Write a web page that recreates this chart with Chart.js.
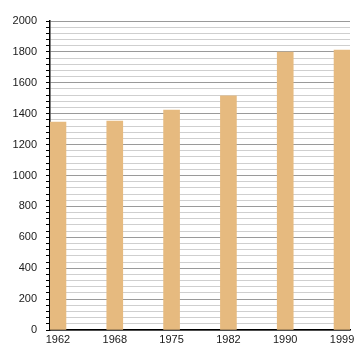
<!DOCTYPE html>
<html>
<head>
<meta charset="utf-8">
<script src="https://cdn.jsdelivr.net/npm/chart.js@4"></script>
<style>
  html, body { margin: 0; padding: 0; background: #fff; }
  #wrap { width: 360px; height: 360px; }
</style>
</head>
<body>
<div id="wrap"><canvas id="chart" width="360" height="360"></canvas></div>
<script>
const years = ['1962', '1968', '1975', '1982', '1990', '1999'];
const population = [1346, 1353, 1424, 1515, 1799, 1812];

const points = population.map((v, i) => ({ x: i, y: v }));

new Chart(document.getElementById('chart'), {
    type: 'bar',
    data: {
        datasets: [{
            data: points,
            backgroundColor: '#e6ba7f',
            borderWidth: 0,
            barThickness: 16
        }]
    },
    options: {
        responsive: false,
        animation: false,
        layout: { padding: { top: 21, right: 10, left: 0, bottom: 0 } },
        plugins: {
            legend: { display: false },
            tooltip: { enabled: false }
        },
        scales: {
            x: {
                type: 'linear',
                offset: false,
                min: -0.14,
                max: 5.14,
                grid: { display: false, drawTicks: false },
                border: { color: '#000', width: 1.5 },
                ticks: {
                    stepSize: 1,
                    includeBounds: false,
                    padding: 3,
                    color: '#1a1a1a',
                    font: { family: 'Liberation Sans', size: 11 },
                    callback: v => Number.isInteger(v) ? years[v] : ''
                },
                afterFit: scale => { scale.height = 30; }
            },
            y: {
                min: 0,
                max: 2000,
                grid: {
                    color: ctx => ctx.tick && ctx.tick.value % 200 === 0 ? '#9a9a9a' : '#cfcfcf',
                    tickColor: '#000',
                    tickLength: 4
                },
                border: { color: '#000', width: 1.5 },
                ticks: {
                    stepSize: 40,
                    autoSkip: false,
                    padding: 9,
                    color: '#1a1a1a',
                    font: { family: 'Liberation Sans', size: 11 },
                    callback: v => v % 200 === 0 ? v : ''
                },
                afterFit: scale => { scale.width = 50; }
            }
        }
    }
});
</script>
</body>
</html>
